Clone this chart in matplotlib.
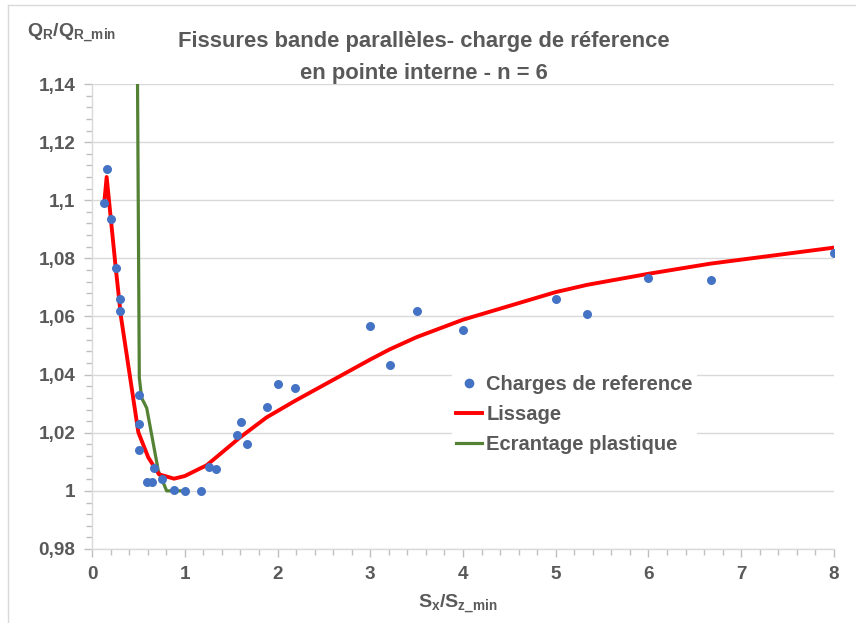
import matplotlib
matplotlib.use("Agg")
import matplotlib.pyplot as plt
from matplotlib.ticker import MultipleLocator, FuncFormatter
from matplotlib.lines import Line2D

plt.rcParams['font.family'] = ['Liberation Sans', 'DejaVu Sans']
plt.rcParams['mathtext.fontset'] = 'custom'
plt.rcParams['mathtext.rm'] = 'Liberation Sans'
plt.rcParams['mathtext.bf'] = 'Liberation Sans:bold'
plt.rcParams['mathtext.it'] = 'Liberation Sans:italic'

# Data: reference charges (points)
ref_x = [0.133, 0.158, 0.208, 0.255, 0.305, 0.305, 0.51, 0.51, 0.51, 0.596, 0.643,
         0.672, 0.751, 0.884, 1.0, 1.175, 1.258, 1.337, 1.563, 1.606, 1.671, 1.883,
         2.0, 2.19, 3.0, 3.21, 3.5, 4.0, 5.0, 5.34, 6.0, 6.67, 8.0]
ref_y = [1.0989, 1.1106, 1.0934, 1.0768, 1.0659, 1.0618, 1.0331, 1.0231, 1.0140, 1.0032, 1.0032,
         1.0077, 1.0040, 1.0003, 1.0000, 1.0001, 1.0082, 1.0075, 1.0193, 1.0236, 1.0160, 1.0287,
         1.0368, 1.0355, 1.0566, 1.0434, 1.0620, 1.0555, 1.0659, 1.0607, 1.0732, 1.0726, 1.0820]

# Smoothed curve (Lissage)
lis_x = [0.133, 0.158, 0.208, 0.255, 0.313, 0.50, 0.607, 0.722, 0.884, 1.0, 1.164, 1.236,
         1.596, 1.883, 2.19, 3.0, 3.21, 3.5, 4.0, 5.0, 5.34, 6.0, 6.67, 8.0]
lis_y = [1.0994, 1.1080, 1.0920, 1.0770, 1.0598, 1.0201, 1.0115, 1.0057, 1.0042, 1.0051, 1.0077, 1.0088,
         1.0184, 1.0253, 1.0310, 1.0452, 1.0487, 1.0529, 1.0589, 1.0684, 1.0709, 1.0747, 1.0782, 1.0837]

# Plastic screening (Ecrantage plastique)
ecr_x = [0.47, 0.51, 0.535, 0.59, 0.715, 0.805, 0.97]
ecr_y = [1.25, 1.039, 1.032, 1.0285, 1.0069, 1.0, 1.0]

grey = '#595959'
fig = plt.figure(figsize=(8.56, 6.23), dpi=100)
ax = fig.add_axes([92/856, 1-549/623, (834-92)/856, (549-84)/623])

ax.plot(ecr_x, ecr_y, color='#548235', lw=2.3, zorder=3, solid_capstyle='butt')
ax.plot(lis_x, lis_y, color='#FF0000', lw=2.8, zorder=4)
ax.scatter(ref_x, ref_y, s=42, color='#4472C4', zorder=5, linewidths=0)

ax.set_xlim(0, 8)
ax.set_ylim(0.98, 1.14)
ax.xaxis.set_major_locator(MultipleLocator(1))
ax.xaxis.set_minor_locator(MultipleLocator(0.2))
ax.yaxis.set_major_locator(MultipleLocator(0.02))
ax.yaxis.set_minor_locator(MultipleLocator(0.004))

def yfmt(v, pos):
    s = ('%.2f' % v).rstrip('0').rstrip('.')
    return s.replace('.', ',')
ax.yaxis.set_major_formatter(FuncFormatter(yfmt))
ax.xaxis.set_major_formatter(FuncFormatter(lambda v, p: '%d' % round(v)))

ax.grid(axis='y', which='major', color='#D9D9D9', lw=1.0)
ax.set_axisbelow(True)
for s in ['top', 'right']:
    ax.spines[s].set_visible(False)
for s in ['left', 'bottom']:
    ax.spines[s].set_color('#D9D9D9')
    ax.spines[s].set_linewidth(1.0)
ax.tick_params(which='both', color='#BFBFBF', direction='out')
ax.tick_params(which='major', length=6, width=1, labelsize=13.6, labelcolor=grey, pad=6)
ax.tick_params(which='minor', length=4, width=1)
for lab in ax.get_xticklabels() + ax.get_yticklabels():
    lab.set_fontweight('bold')

# Title
fig.text(424/856, 1-41/623, 'Fissures bande parallèles- charge de réference',
         ha='center', va='center', fontsize=15.8, fontweight='bold', color=grey)
fig.text(424/856, 1-73/623, 'en pointe interne - n = 6',
         ha='center', va='center', fontsize=15.8, fontweight='bold', color=grey)

# Axis labels
fig.text(27/856, 1-33/623, r'$\mathbf{Q_R/Q_{R\_min}}$', ha='left', va='center',
         fontsize=14, color=grey)
fig.text(458/856, 1-604/623, r'$\mathbf{S_x/S_{z\_min}}$', ha='center', va='center',
         fontsize=14, color=grey)

# Legend
handles = [Line2D([], [], ls='none', marker='o', markersize=6, color='#4472C4'),
           Line2D([], [], color='#FF0000', lw=2.8),
           Line2D([], [], color='#548235', lw=2.3)]
labels = ['Charges de reference', 'Lissage', 'Ecrantage plastique']
leg = ax.legend(handles, labels, loc='upper left', bbox_to_anchor=((452-92)/742, (549-371)/465),
                frameon=True, framealpha=1, edgecolor='none', facecolor='white',
                prop={'weight': 'bold', 'size': 14.5}, handlelength=1.3, handletextpad=0.2,
                labelspacing=0.55, borderpad=0.2, borderaxespad=0)
for t in leg.get_texts():
    t.set_color(grey)

# Chart border (left & top visible)
fig.add_artist(Line2D([8/856, 8/856], [0, 1-5/623], color='#D9D9D9', lw=1, transform=fig.transFigure))
fig.add_artist(Line2D([8/856, 1], [1-5/623, 1-5/623], color='#D9D9D9', lw=1, transform=fig.transFigure))

fig.savefig('out.png', dpi=100)
